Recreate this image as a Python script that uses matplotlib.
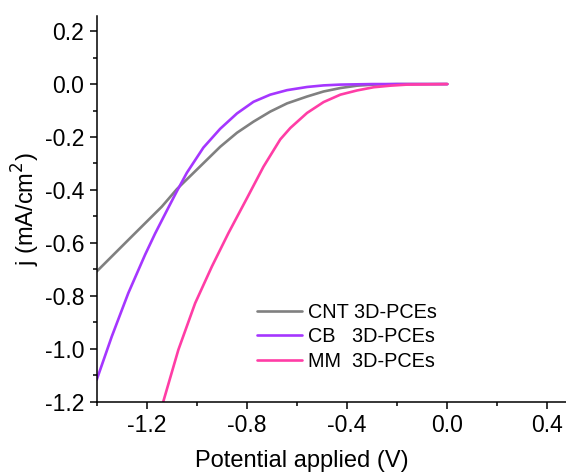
import matplotlib
matplotlib.use("Agg")
import matplotlib.pyplot as plt
from matplotlib.ticker import MultipleLocator

plt.rcParams['font.family'] = ['Liberation Sans', 'DejaVu Sans']
plt.rcParams['axes.unicode_minus'] = False

# Linear sweep voltammetry curves: potential (V) vs current density (mA/cm^2)
cnt_v = [-1.4, -1.274, -1.14, -1.08, -0.974, -0.907, -0.84, -0.774, -0.707, -0.64,
         -0.56, -0.494, -0.427, -0.36, -0.294, -0.2, 0.0]
cnt_j = [-0.708, -0.589, -0.463, -0.397, -0.299, -0.237, -0.184, -0.142, -0.104, -0.073,
         -0.047, -0.028, -0.015, -0.006, -0.002, 0.0, 0.0]

cb_v = [-1.4, -1.34, -1.274, -1.207, -1.167, -1.12, -1.08, -1.04, -0.974, -0.907, -0.84,
        -0.774, -0.707, -0.64, -0.56, -0.494, -0.427, -0.3, 0.0]
cb_j = [-1.117, -0.954, -0.790, -0.645, -0.565, -0.478, -0.405, -0.335, -0.240, -0.169,
        -0.111, -0.067, -0.040, -0.023, -0.011, -0.005, -0.002, 0.0, 0.0]

mm_v = [-1.134, -1.074, -1.007, -0.94, -0.874, -0.8, -0.734, -0.667, -0.627, -0.56,
        -0.494, -0.427, -0.36, -0.294, -0.227, -0.16, -0.08, 0.0]
mm_j = [-1.199, -1.004, -0.828, -0.689, -0.563, -0.431, -0.312, -0.209, -0.166, -0.109,
        -0.068, -0.040, -0.024, -0.012, -0.006, -0.002, -0.001, 0.0]

labels = ["CNT 3D-PCEs", "CB   3D-PCEs", "MM  3D-PCEs"]
colors = ["#808080", "#A536FF", "#FF3DA6"]

fig = plt.figure(figsize=(5.66, 4.72), dpi=100)
ax = fig.add_axes([0.1709, 0.149, 0.8291, 0.817])

for v, j, lab, c in zip([cnt_v, cb_v, mm_v], [cnt_j, cb_j, mm_j], labels, colors):
    ax.plot(v, j, color=c, lw=1.9, label=lab,
            solid_capstyle='round', solid_joinstyle='round')

ax.set_xlim(-1.4, 0.474)
ax.set_ylim(-1.2, 0.257)

ax.xaxis.set_minor_locator(MultipleLocator(0.2))
ax.yaxis.set_minor_locator(MultipleLocator(0.1))
ax.set_xticks([-1.2, -0.8, -0.4, 0.0, 0.4])
ax.set_xticklabels(["-1.2", "-0.8", "-0.4", "0.0", "0.4"])
ax.set_yticks([-1.2, -1.0, -0.8, -0.6, -0.4, -0.2, 0.0, 0.2])
ax.set_yticklabels(["-1.2", "-1.0", "-0.8", "-0.6", "-0.4", "-0.2", "0.0", "0.2"])

for s in ("top", "right"):
    ax.spines[s].set_visible(False)
for s in ("left", "bottom"):
    ax.spines[s].set_linewidth(1.1)

ax.tick_params(which='major', direction='out', length=5, width=1.1, labelsize=16.5, pad=4)
ax.tick_params(which='minor', direction='out', length=3, width=1.1)

ax.set_xlabel("Potential applied (V)", fontsize=17, labelpad=12)
ax.xaxis.set_label_coords(0.4375, -0.125)
ax.set_ylabel("j (mA/cm$^2$)", fontsize=17, labelpad=2)

leg = ax.legend(loc='center left', bbox_to_anchor=(0.3416, 0.168), frameon=False,
                fontsize=14.3, handlelength=2.27, handletextpad=0.3, labelspacing=0.26,
                borderpad=0, borderaxespad=0)

fig.savefig("out.png", dpi=100)
